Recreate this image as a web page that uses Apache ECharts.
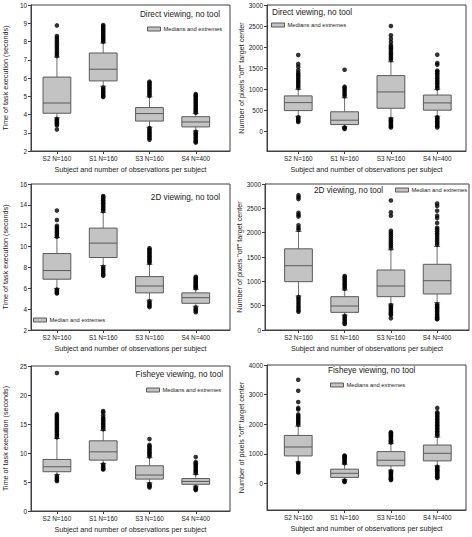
<!DOCTYPE html>
<html><head><meta charset="utf-8">
<script src="https://cdn.jsdelivr.net/npm/echarts@6/dist/echarts.min.js"></script>
<style>html,body{margin:0;padding:0;background:#fff}#c{width:472px;height:537px}</style>
</head><body><div id="c"></div><script>
const subjects = ['S2 N=160', 'S1 N=160', 'S3 N=160', 'S4 N=400'];
const timeAxisName = 'Time of task execution (seconds)';
const pixelAxisName = 'Number of pixels "off" target center';
const xAxisName = 'Subject and number of observations per subject';
const panelTitles = ['Direct viewing, no tool', 'Direct viewing, no tool', '2D viewing, no tool', '2D viewing, no tool', 'Fisheye viewing, no tool', 'Fisheye viewing, no tool'];
const legendNames = ['Medians and extremes', 'Medians and extremes', 'Median and extremes', 'Median and extremes', 'Medians and extremes', 'Medians and extremes'];

// box stats per subject: [lower whisker, Q1, median, Q3, upper whisker]
const directTimeBoxes = [[3.82, 4.07, 4.63, 6.05, 7.15], [5.55, 5.84, 6.48, 7.37, 7.92], [3.3, 3.64, 4.05, 4.38, 4.97], [3.1, 3.32, 3.59, 3.88, 4.05]];
const directTimeOutliers = [
  [7.2, 7.3, 7.4, 7.5, 7.6, 7.7, 7.8, 7.9, 8.0, 8.1, 8.2, 8.3, 8.88, 3.76, 3.7, 3.64, 3.58, 3.52, 3.46, 3.4, 3.18],
  [7.98, 8.05, 8.12, 8.2, 8.28, 8.36, 8.44, 8.52, 8.6, 8.68, 8.76, 8.84, 8.9, 5.48, 5.4, 5.32, 5.24, 5.16, 5.08, 5.0, 4.96],
  [5.02, 5.1, 5.18, 5.26, 5.34, 5.42, 5.5, 5.58, 5.66, 5.74, 5.8, 3.26, 3.18, 3.1, 3.02, 2.94, 2.86, 2.78, 2.7, 2.62],
  [4.1, 4.18, 4.26, 4.34, 4.42, 4.5, 4.58, 4.66, 4.74, 4.82, 4.9, 4.98, 5.06, 5.12, 3.05, 2.97, 2.9, 2.82, 2.74, 2.66, 2.58, 2.5, 2.46]
];
const directPixelBoxes = [[355, 490, 680, 840, 995], [105, 158, 262, 462, 795], [315, 546, 934, 1322, 1650], [356, 500, 673, 860, 990]];
const directPixelOutliers = [
  [1030, 1070, 1110, 1150, 1190, 1230, 1270, 1310, 1350, 1390, 1450, 1530, 1600, 1810, 330, 300, 270, 240, 220],
  [830, 870, 910, 950, 990, 1030, 1060, 1460, 90, 70, 55],
  [1690, 1730, 1770, 1810, 1850, 1890, 1930, 1970, 2010, 2050, 2120, 2200, 2280, 2500, 290, 260, 230, 200, 170, 140, 110, 90],
  [1020, 1060, 1100, 1140, 1180, 1220, 1260, 1300, 1340, 1380, 1420, 1440, 1580, 1620, 1820, 330, 300, 270, 240, 210, 180, 150, 120, 90]
];
const twoDTimeBoxes = [[5.98, 6.87, 7.7, 9.33, 10.87], [8.18, 8.95, 10.33, 11.77, 13.28], [4.87, 5.56, 6.22, 7.12, 8.3], [4.28, 4.56, 5.1, 5.56, 5.9]];
const twoDTimeOutliers = [
  [10.95, 11.1, 11.25, 11.4, 11.55, 11.7, 11.85, 12.0, 12.55, 13.45, 5.88, 5.78, 5.68, 5.58, 5.5],
  [13.4, 13.55, 13.7, 13.85, 14.0, 14.15, 14.3, 14.45, 14.6, 14.75, 14.85, 8.05, 7.9, 7.75, 7.6, 7.45, 7.3, 7.2],
  [8.42, 8.55, 8.68, 8.81, 8.94, 9.07, 9.2, 9.33, 9.46, 9.59, 9.72, 9.85, 4.75, 4.6, 4.45, 4.3, 4.2],
  [6.0, 6.1, 6.2, 6.3, 6.4, 6.5, 6.6, 6.7, 6.8, 6.9, 7.0, 7.1, 4.15, 4.0, 3.85, 3.7]
];
const twoDPixelBoxes = [[699, 993, 1321, 1668, 2025], [308, 363, 493, 685, 822], [534, 685, 904, 1233, 1648], [561, 740, 1013, 1350, 1716]];
const twoDPixelOutliers = [
  [2060, 2100, 2150, 2330, 2370, 2410, 2690, 2730, 2770, 680, 640, 600, 560, 520, 480, 440, 400, 376],
  [850, 880, 910, 940, 970, 1000, 1030, 1060, 1090, 1110, 290, 260, 230, 200, 170, 140, 123],
  [1680, 1720, 1760, 1800, 1840, 1880, 1920, 1960, 2000, 2040, 2350, 2420, 2660, 510, 480, 450, 420, 390, 360, 330, 308, 240],
  [1750, 1790, 1830, 1870, 1910, 1950, 1990, 2030, 2070, 2100, 2200, 2300, 2350, 2450, 2550, 2600, 530, 500, 470, 440, 410, 380, 350, 320, 290, 260, 230, 220]
];
const fisheyeTimeBoxes = [[6.3, 6.77, 7.63, 8.89, 12.5], [8.2, 8.77, 10.2, 12.1, 13.88], [4.87, 5.5, 6.2, 7.8, 9.2], [4.3, 4.6, 5.1, 5.6, 6.3]];
const fisheyeTimeOutliers = [
  [12.7, 12.95, 13.2, 13.45, 13.7, 13.95, 14.2, 14.45, 14.7, 14.95, 15.2, 15.45, 15.7, 15.95, 16.2, 16.45, 16.7, 23.8, 6.05, 5.8, 5.55, 5.3, 5.15],
  [14.1, 14.35, 14.6, 14.85, 15.1, 15.35, 15.6, 15.85, 16.1, 16.5, 17.0, 17.25, 8.0, 7.75, 7.5, 7.25, 7.15],
  [9.4, 9.65, 9.9, 10.15, 10.4, 10.65, 10.9, 11.15, 11.4, 12.4, 4.65, 4.45, 4.25, 4.05],
  [6.5, 6.75, 7.0, 7.25, 7.5, 7.75, 8.0, 8.25, 8.45, 9.3, 4.1, 3.9, 3.7, 3.6]
];
const fisheyePixelBoxes = [[726, 927, 1229, 1620, 1933], [123, 201, 340, 480, 648], [447, 592, 782, 1073, 1340], [592, 760, 1017, 1296, 1564]];
const fisheyePixelOutliers = [
  [1980, 2030, 2080, 2130, 2180, 2230, 2280, 2330, 2500, 2550, 2750, 3130, 3500, 690, 640, 590, 540, 490, 440, 390, 369],
  [680, 720, 760, 800, 840, 880, 920, 940, 95, 70, 50],
  [1380, 1420, 1460, 1500, 1540, 1580, 1620, 1660, 1700, 1730, 410, 370, 330, 290, 250, 210, 170, 130, 112],
  [1610, 1660, 1710, 1760, 1810, 1860, 1910, 1960, 2010, 2060, 2110, 2160, 2210, 2260, 2310, 2360, 2400, 2550, 558, 520, 480, 440, 400, 360, 320, 280, 240, 200, 180]
];

const boxSets = [directTimeBoxes, directPixelBoxes, twoDTimeBoxes, twoDPixelBoxes, fisheyeTimeBoxes, fisheyePixelBoxes];
const outlierSets = [directTimeOutliers, directPixelOutliers, twoDTimeOutliers, twoDPixelOutliers, fisheyeTimeOutliers, fisheyePixelOutliers];

// layout
const grids = [
  {left: 31, top: 5, width: 199, height: 146},
  {left: 267, top: 5, width: 199, height: 146},
  {left: 31, top: 184, width: 199, height: 146},
  {left: 265, top: 184, width: 204, height: 146},
  {left: 31, top: 366, width: 199, height: 145},
  {left: 267, top: 365, width: 199, height: 145}
];
const xRanges = [[0.44, 4.74], [0.326, 4.62], [0.44, 4.74], [0.275, 4.69], [0.44, 4.74], [0.326, 4.62]];
const yRanges = [
  {min: 2, max: 10, interval: 1},
  {min: -470, max: 3000, ticks: [0, 500, 1000, 1500, 2000, 2500, 3000]},
  {min: 2, max: 16, interval: 2},
  {min: 0, max: 3000, interval: 500},
  {min: 0, max: 25, interval: 5},
  {min: -900, max: 4000, ticks: [0, 1000, 2000, 3000, 4000]}
];
const titlePos = [
  {right: 252, top: 10}, {left: 272, top: 8}, {right: 252, top: 193},
  {left: 314, top: 186}, {right: 249, top: 370}, {left: 328, top: 366}
];
const legendPos = [
  {left: 147, top: 26}, {left: 271, top: 22}, {left: 33, top: 317},
  {left: 395, top: 187}, {left: 146, top: 387}, {left: 330, top: 382}
];

const FONT = 'Liberation Sans, Arial, sans-serif';
const AX = '#404040';
const BOX_FILL = '#c3c3c3';
const BOX_LINE = '#5a5a5a';

function renderBox(params, api) {
  const x = api.value(0);
  const lw = api.value(1), q1 = api.value(2), md = api.value(3), q3 = api.value(4), hw = api.value(5);
  const half = 0.3, cap = 0.065;
  const tl = api.coord([x - half, q3]);
  const br = api.coord([x + half, q1]);
  const pLw = api.coord([x, lw]), pQ1 = api.coord([x, q1]), pQ3 = api.coord([x, q3]), pHw = api.coord([x, hw]);
  const cL = api.coord([x - cap, lw])[0], cR = api.coord([x + cap, lw])[0];
  const mL = api.coord([x - half, md]), mR = api.coord([x + half, md]);
  const ls = {stroke: '#707070', lineWidth: 1};
  return {
    type: 'group',
    children: [
      {type: 'line', shape: {x1: pLw[0], y1: pLw[1], x2: pQ1[0], y2: pQ1[1]}, style: ls},
      {type: 'line', shape: {x1: pQ3[0], y1: pQ3[1], x2: pHw[0], y2: pHw[1]}, style: ls},
      {type: 'line', shape: {x1: cL, y1: pLw[1], x2: cR, y2: pLw[1]}, style: ls},
      {type: 'line', shape: {x1: cL, y1: pHw[1], x2: cR, y2: pHw[1]}, style: ls},
      {type: 'rect', shape: {x: tl[0], y: tl[1], width: br[0] - tl[0], height: br[1] - tl[1]}, style: {fill: BOX_FILL, stroke: BOX_LINE, lineWidth: 1}},
      {type: 'line', shape: {x1: mL[0], y1: mL[1], x2: mR[0], y2: mR[1]}, style: {stroke: BOX_LINE, lineWidth: 1}}
    ]
  };
}

const option = {
  animation: false,
  backgroundColor: '#fff',
  title: panelTitles.map((t, i) => Object.assign({text: t, padding: 0, textStyle: {fontSize: 8.2, fontWeight: 'normal', color: '#222', fontFamily: FONT}}, titlePos[i])),
  legend: legendNames.map((n, i) => Object.assign({
    data: [{name: n, icon: 'rect', itemStyle: {color: BOX_FILL, borderColor: BOX_LINE, borderWidth: 1}}],
    itemWidth: 13, itemHeight: 4, padding: 0, selectedMode: false,
    textStyle: {fontSize: 5.8, color: '#222', fontFamily: FONT, padding: [0, 0, 0, -2]}
  }, legendPos[i])),
  grid: grids.map(g => Object.assign({show: true, borderColor: AX, borderWidth: 1, backgroundColor: 'transparent'}, g)),
  xAxis: grids.map((g, i) => ({
    type: 'value', gridIndex: i, min: xRanges[i][0], max: xRanges[i][1],
    name: xAxisName, nameLocation: 'middle', nameGap: 15,
    nameTextStyle: {fontSize: 7.2, color: '#222', fontFamily: FONT},
    splitLine: {show: false},
    axisLine: {show: true, onZero: false, lineStyle: {color: AX}},
    axisTick: {show: true, customValues: [1, 2, 3, 4], length: 3, lineStyle: {color: AX}},
    axisLabel: {customValues: [1, 2, 3, 4], formatter: v => subjects[Math.round(v) - 1], fontSize: 6.4, color: '#222', margin: 4, fontFamily: FONT}
  })),
  yAxis: grids.map((g, i) => {
    const r = yRanges[i];
    const ax = {
      type: 'value', gridIndex: i, min: r.min, max: r.max,
      name: i % 2 === 0 ? timeAxisName : pixelAxisName, nameLocation: 'middle', nameGap: 22,
      nameTextStyle: {fontSize: 7.2, color: '#222', fontFamily: FONT},
      splitLine: {show: false},
      axisLine: {show: true, onZero: false, lineStyle: {color: AX}},
      axisTick: {show: true, length: 3, lineStyle: {color: AX}},
      axisLabel: {fontSize: 6.4, color: '#222', margin: 4, fontFamily: FONT, formatter: v => String(v)}
    };
    if (r.interval) ax.interval = r.interval;
    if (r.ticks) { ax.axisTick.customValues = r.ticks; ax.axisLabel.customValues = r.ticks; }
    return ax;
  }),
  series: []
};

boxSets.forEach((boxes, i) => {
  option.series.push({
    type: 'custom', name: legendNames[i], xAxisIndex: i, yAxisIndex: i,
    renderItem: renderBox, itemStyle: {color: BOX_FILL},
    encode: {x: 0, y: [1, 2, 3, 4, 5]},
    data: boxes.map((b, k) => [k + 1].concat(b)), z: 2
  });
  option.series.push({
    type: 'scatter', name: 'outliers', xAxisIndex: i, yAxisIndex: i,
    symbol: 'circle', symbolSize: 4.6, itemStyle: {color: '#000'},
    data: outlierSets[i].flatMap((arr, k) => arr.map(v => [k + 1, v])), z: 3
  });
});

const chart = echarts.init(document.getElementById('c'), null, {renderer: 'svg'});
chart.setOption(option);
</script></body></html>
